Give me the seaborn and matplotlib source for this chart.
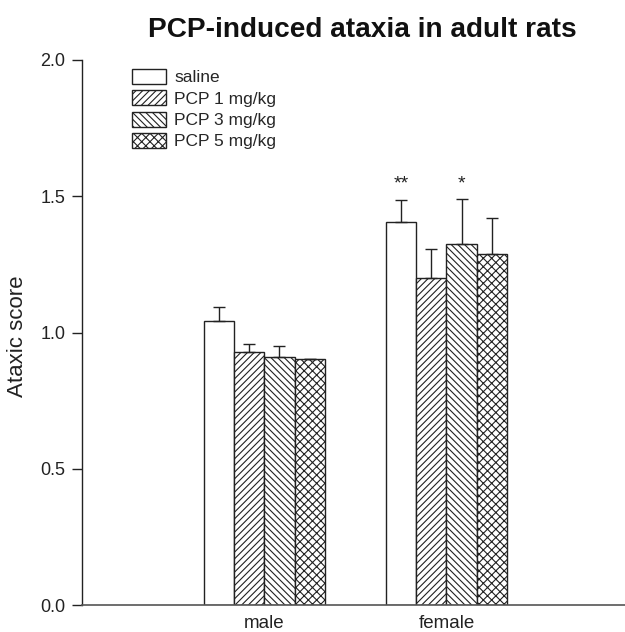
import matplotlib
matplotlib.use("Agg")
import matplotlib.pyplot as plt
import seaborn as sns
import pandas as pd
import numpy as np

# ---- data ----
sexes = ["male", "female"]
groups = ["saline", "PCP 1 mg/kg", "PCP 3 mg/kg", "PCP 5 mg/kg"]
male_mean = [1.042, 0.930, 0.910, 0.901]
male_sem = [0.050, 0.029, 0.042, 0.0]
female_mean = [1.405, 1.201, 1.324, 1.287]
female_sem = [0.080, 0.105, 0.165, 0.133]
male_sig = ["", "", "", ""]
female_sig = ["**", "", "*", ""]
hatches = ["", "/////", "\\\\\\\\\\", "xxxx"]

rows = []
for s, means, sems, sigs in [("male", male_mean, male_sem, male_sig),
                             ("female", female_mean, female_sem, female_sig)]:
    for g, m, e, sg in zip(groups, means, sems, sigs):
        rows.append({"sex": s, "group": g, "score": m, "err": e, "sig": sg})
df = pd.DataFrame(rows)

sns.set_style("ticks")
plt.rcParams["font.family"] = ["Liberation Sans", "DejaVu Sans"]
plt.rcParams["hatch.linewidth"] = 0.8
plt.rcParams["hatch.color"] = "#222222"

fig = plt.figure(figsize=(6.25, 6.32), dpi=100)
ax = fig.add_axes([82 / 625, 27 / 632, 543 / 625, 545 / 632])

sns.barplot(data=df, x="sex", y="score", hue="group", order=sexes,
            hue_order=groups, palette=["white"] * 4, errorbar=None,
            width=0.666, gap=0, edgecolor="#222222", linewidth=1.0,
            legend=False, ax=ax)

bar_conts = list(ax.containers)
for cont, h in zip(bar_conts, hatches):
    for p in cont.patches:
        p.set_hatch(h)
        p.set_edgecolor("#222222")

# error bars (upward only) and significance marks
for gi, cont in enumerate(bar_conts):
    g = groups[gi]
    for si, p in enumerate(cont.patches):
        s = sexes[si]
        r = df[(df["sex"] == s) & (df["group"] == g)].iloc[0]
        xc = p.get_x() + p.get_width() / 2
        ax.errorbar([xc], [r["score"]], yerr=[[0], [r["err"]]], fmt="none",
                    ecolor="#222222", elinewidth=1.0, capsize=4.2,
                    capthick=1.0, zorder=3)
        if r["sig"]:
            ax.text(xc, 1.53, r["sig"], ha="center", va="baseline",
                    fontsize=14, color="#222222")

ax.set_xlim(-1.0, 1.98)
ax.set_ylim(0, 2.0)
ax.set_yticks([0.0, 0.5, 1.0, 1.5, 2.0])
ax.set_yticklabels(["0.0", "0.5", "1.0", "1.5", "2.0"])
ax.tick_params(axis="y", labelsize=13, length=7, width=1, color="#222222",
               pad=5, labelcolor="#222222")
ax.tick_params(axis="x", labelsize=13.5, length=0, pad=7.5, labelcolor="#222222")
ax.set_xlabel("")
ax.set_ylabel("Ataxic score", fontsize=16, color="#222222")
ax.yaxis.set_label_coords(-0.10, 0.494)

sns.despine(ax=ax)
ax.spines["left"].set_color("#222222")
ax.spines["bottom"].set_color("#555555")
ax.spines["left"].set_linewidth(1.0)
ax.spines["bottom"].set_linewidth(1.2)

ax.legend(handles=bar_conts, labels=groups, loc="upper left",
          bbox_to_anchor=((131.7 - 82) / 543, (605 - 69) / 545),
          frameon=False, fontsize=12.5, handlelength=1.95,
          handleheight=0.95, handletextpad=0.5, labelspacing=0.28,
          borderpad=0, borderaxespad=0)

fig.text(362 / 625, 1 - 30 / 632, "PCP-induced ataxia in adult rats",
         ha="center", va="center", fontsize=20.2, fontweight="bold",
         color="#111111")

fig.savefig("out.png", dpi=100)
